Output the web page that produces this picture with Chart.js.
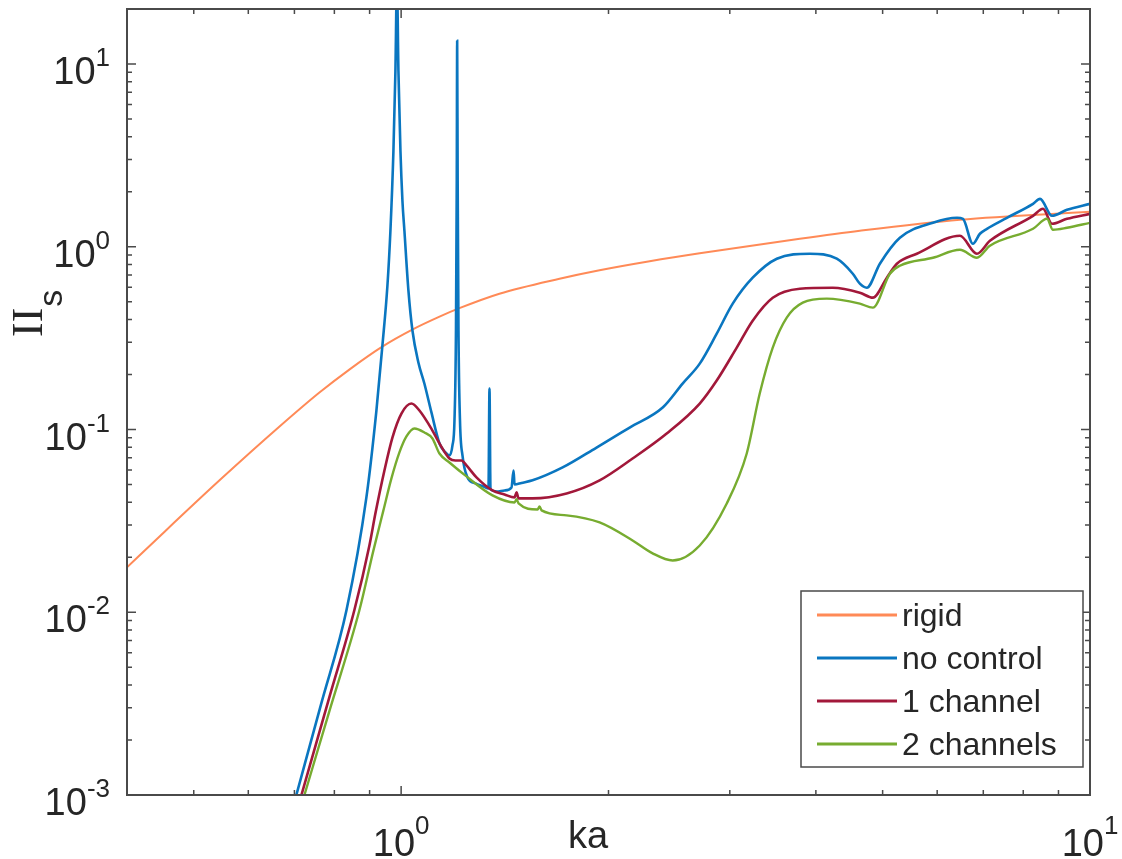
<!DOCTYPE html>
<html>
<head>
<meta charset="utf-8">
<script src="https://cdn.jsdelivr.net/npm/chart.js@4.4.1/dist/chart.umd.min.js"></script>
<style>
  body { margin: 0; background: #fff; }
  #wrap { width: 1122px; height: 859px; position: relative; }
</style>
</head>
<body>
<div id="wrap"><canvas id="myChart"></canvas></div>
<script>
// values (ka on x, Pi_s on y, both log)
const rigidKa = [0.4, 0.446, 0.545, 0.666, 0.761, 0.841, 0.939, 1.038, 1.137, 1.215, 1.389, 1.698, 1.941, 2.295, 2.713, 3.791, 4.633, 6.474, 10];
const rigidPi = [0.0176, 0.0260, 0.0527, 0.1038, 0.1593, 0.2128, 0.2841, 0.352, 0.4145, 0.4612, 0.5535, 0.6686, 0.7438, 0.8331, 0.9215, 1.106, 1.223, 1.405, 1.553];

const noCtrlKa = [0.7045, 0.766, 0.833, 0.8904, 0.9207, 0.9393, 0.9552, 0.9648, 0.9746, 0.9811, 0.9861, 0.991, 0.9977, 1.0044, 1.0111, 1.0247, 1.0385, 1.0596, 1.081, 1.1066,
  1.1367, 1.1597, 1.1753, 1.1872, 1.1952, 1.2012, 1.2044, 1.206, 1.208, 1.2113, 1.2174, 1.2276, 1.2483, 1.2821, 1.317, 1.3391, 1.3436, 1.3481, 1.3755, 1.4128,
  1.4463, 1.4561, 1.461, 1.4955, 1.5515, 1.7156, 1.9216, 2.1466, 2.3973, 2.5622, 2.7132, 2.8717, 3.0295, 3.2384, 3.5104, 3.92, 4.2895, 4.5256, 4.6333, 4.7424,
  4.9541, 5.2966, 5.9156, 6.4104, 6.5403, 6.7608, 6.9215, 7.0859, 7.576, 8.2661, 8.4623, 8.8075, 9.26, 10];
const noCtrlPi = [0.001, 0.00318, 0.01025, 0.0425, 0.127, 0.288, 0.612, 1.22, 3.35, 9.16, 28, 9.16, 3.35, 1.78, 1.22, 0.575, 0.348, 0.232, 0.178, 0.124,
  0.0839, 0.0749, 0.0721, 0.0818, 0.112, 0.348, 2.30, 13.4, 2.30, 0.348, 0.112, 0.0721, 0.0547, 0.0507, 0.0488, 0.0476, 0.1675, 0.047, 0.0458, 0.0464,
  0.0482, 0.0597, 0.05, 0.051, 0.0527, 0.062, 0.0797, 0.1025, 0.1319, 0.1784, 0.2294, 0.3346, 0.4882, 0.677, 0.86, 0.916, 0.86, 0.712, 0.628, 0.597,
  0.808, 1.12, 1.352, 1.44, 1.42, 1.038, 1.178, 1.254, 1.44, 1.718, 1.829, 1.477, 1.593, 1.718];

const oneChKa = [0.7166, 0.7868, 0.8552, 0.8994, 0.9177, 0.9457, 0.9713, 1.001, 1.035, 1.0631, 1.1104, 1.1367, 1.1753, 1.1992, 1.2235, 1.2441, 1.2864, 1.3571,
  1.4128, 1.461, 1.4707, 1.4806, 1.5515, 1.7387, 1.9414, 2.1677, 2.4296, 2.7132, 2.8717, 3.0704, 3.2384, 3.463, 3.791, 4.2326, 4.6333, 4.8389, 5.0715,
  5.2437, 5.6058, 6.474, 6.852, 7.1567, 8.2661, 8.5465, 8.8075, 9.26, 10];
const oneChPi = [0.001, 0.00343, 0.01025, 0.0232, 0.0348, 0.0597, 0.0904, 0.1223, 0.1387, 0.127, 0.0987, 0.0839, 0.0694, 0.0677, 0.0677, 0.0636, 0.0547, 0.0464,
  0.0441, 0.0425, 0.0453, 0.042, 0.042, 0.0447, 0.0527, 0.0694, 0.0951, 0.1387, 0.1853, 0.2806, 0.3941, 0.5265, 0.5895, 0.597, 0.5606, 0.5265, 0.677,
  0.8075, 0.9157, 1.148, 0.9157, 1.078, 1.477, 1.613, 1.336, 1.422, 1.514];

const twoChKa = [0.7238, 0.7868, 0.8698, 0.9116, 0.9425, 0.9681, 0.9943, 1.0179, 1.0455, 1.081, 1.1104, 1.1367, 1.1753, 1.2441, 1.3571, 1.461, 1.4707, 1.4806,
  1.5777, 1.5884, 1.5991, 1.7387, 1.9414, 2.1677, 2.3177, 2.478, 2.7132, 2.9697, 3.1747, 3.3157, 3.463, 3.6291, 3.8285, 4.1486, 4.6333, 4.8389, 5.1223,
  5.2966, 5.9156, 6.474, 6.852, 7.1567, 8.2661, 8.6614, 8.8362, 9.26, 10];
const twoChPi = [0.001, 0.00288, 0.01025, 0.0218, 0.0361, 0.054, 0.0749, 0.0916, 0.1013, 0.0963, 0.0893, 0.0739, 0.066, 0.0554, 0.0436, 0.0399, 0.0415, 0.0394,
  0.0365, 0.0379, 0.0361, 0.0339, 0.031, 0.0247, 0.021, 0.0192, 0.0232, 0.0394, 0.0739, 0.1573, 0.2806, 0.4093, 0.4943, 0.5199, 0.4882, 0.4642, 0.7118,
  0.7874, 0.8707, 0.963, 0.8707, 1.0127, 1.254, 1.422, 1.238, 1.27, 1.352];

const seriesNames = ['rigid', 'no control', '1 channel', '2 channels'];
const seriesColors = ['#ff8a57', '#0a76c0', '#a2183a', '#77ac30'];

// tick labels: [base, exponent]
const xTickVals = [1, 10];
const xTickLabels = [['10', '0'], ['10', '1']];
const yTickVals = [0.001, 0.01, 0.1, 1, 10];
const yTickLabels = [['10', '-3'], ['10', '-2'], ['10', '-1'], ['10', '0'], ['10', '1']];

const FONT = '"Liberation Sans", Arial, Helvetica, sans-serif';
const TEXT = '#262626';
const AXIS = '#4a4a4a';

const toPoints = (xs, ys) => xs.map((x, i) => ({ x: x, y: ys[i] }));

// 1..9 x 10^n between min and max
const logTicks = (min, max) => {
  const out = [];
  for (let e = Math.floor(Math.log10(min)); e <= Math.ceil(Math.log10(max)); e++) {
    for (let m = 1; m <= 9; m++) {
      const v = m * Math.pow(10, e);
      if (v > min * 1.0001 && v < max * 0.9999) out.push({ v: v, major: m === 1 });
    }
  }
  return out;
};

const matlabAxes = {
  id: 'matlabAxes',
  afterDraw(chart) {
    const { ctx, chartArea: a } = chart;
    const xs = chart.scales.x;
    const ys = chart.scales.y;
    ctx.save();

    // inward ticks on all four sides
    ctx.strokeStyle = AXIS;
    ctx.lineWidth = 1.5;
    ctx.beginPath();
    logTicks(xs.min, xs.max).forEach((t) => {
      const px = xs.getPixelForValue(t.v);
      const len = t.major ? 9 : 5;
      ctx.moveTo(px, a.bottom); ctx.lineTo(px, a.bottom - len);
      ctx.moveTo(px, a.top); ctx.lineTo(px, a.top + len);
    });
    logTicks(ys.min, ys.max).forEach((t) => {
      const py = ys.getPixelForValue(t.v);
      const len = t.major ? 9 : 5;
      ctx.moveTo(a.left, py); ctx.lineTo(a.left + len, py);
      ctx.moveTo(a.right, py); ctx.lineTo(a.right - len, py);
    });
    ctx.stroke();

    // box
    ctx.lineWidth = 2;
    ctx.strokeRect(a.left, a.top, a.right - a.left, a.bottom - a.top);

    // tick labels with raised exponent
    ctx.fillStyle = TEXT;
    ctx.textBaseline = 'alphabetic';
    ctx.textAlign = 'left';
    const baseFont = '38px ' + FONT;
    const expFont = '26px ' + FONT;
    const measure = (txt, f) => { ctx.font = f; return ctx.measureText(txt).width; };

    yTickVals.forEach((v, i) => {
      const py = ys.getPixelForValue(v);
      const [b, e] = yTickLabels[i];
      const wE = measure(e, expFont);
      const wB = measure(b, baseFont);
      const right = 110;
      ctx.font = baseFont; ctx.fillText(b, right - wE - wB, py + 20);
      ctx.font = expFont; ctx.fillText(e, right - wE, py + 2);
    });

    xTickVals.forEach((v, i) => {
      const px = xs.getPixelForValue(v);
      const [b, e] = xTickLabels[i];
      const wE = measure(e, expFont);
      const wB = measure(b, baseFont);
      const left = px - (wB + wE) / 2;
      ctx.font = baseFont; ctx.fillText(b, left, 856);
      ctx.font = expFont; ctx.fillText(e, left + wB, 834);
    });

    // axis titles
    ctx.font = '38px ' + FONT;
    ctx.textAlign = 'center';
    ctx.fillText('ka', 588, 848);

    ctx.save();
    ctx.translate(42, 337);
    ctx.rotate(-Math.PI / 2);
    ctx.textAlign = 'left';
    ctx.font = '44px "Liberation Serif", "Times New Roman", serif';
    ctx.fillText('II', 0, 0);
    const wII = ctx.measureText('II').width;
    ctx.font = '34px ' + FONT;
    ctx.fillText('s', wII + 1, 20);
    ctx.restore();

    // legend box
    const lg = { left: 801, top: 591, right: 1083, bottom: 767 };
    ctx.fillStyle = '#fff';
    ctx.fillRect(lg.left, lg.top, lg.right - lg.left, lg.bottom - lg.top);
    ctx.strokeStyle = AXIS;
    ctx.lineWidth = 1.5;
    ctx.strokeRect(lg.left, lg.top, lg.right - lg.left, lg.bottom - lg.top);
    ctx.font = '32px ' + FONT;
    ctx.textAlign = 'left';
    ctx.textBaseline = 'middle';
    chart.data.datasets.forEach((ds, i) => {
      const cy = 615 + i * 43;
      ctx.strokeStyle = ds.borderColor;
      ctx.lineWidth = 3;
      ctx.beginPath();
      ctx.moveTo(817, cy); ctx.lineTo(897, cy);
      ctx.stroke();
      ctx.fillStyle = TEXT;
      ctx.fillText(ds.label, 902, cy + 2);
    });

    ctx.restore();
  },
};

const datasets = [
  { label: seriesNames[0], data: toPoints(rigidKa, rigidPi), borderColor: seriesColors[0], borderWidth: 2 },
  { label: seriesNames[1], data: toPoints(noCtrlKa, noCtrlPi), borderColor: seriesColors[1], borderWidth: 2.6 },
  { label: seriesNames[2], data: toPoints(oneChKa, oneChPi), borderColor: seriesColors[2], borderWidth: 2.6 },
  { label: seriesNames[3], data: toPoints(twoChKa, twoChPi), borderColor: seriesColors[3], borderWidth: 2.4 },
].map((d, i) => ({ ...d, pointRadius: 0, fill: false, cubicInterpolationMode: 'monotone', order: 4 - i }));

const chart = new Chart(document.getElementById('myChart'), {
  type: 'line',
  data: { datasets: datasets },
  options: {
    responsive: true,
    maintainAspectRatio: false,
    animation: false,
    layout: { padding: { left: 127, right: 32, top: 9, bottom: 64 } },
    scales: {
      x: { type: 'logarithmic', min: 0.4, max: 10, display: false },
      y: { type: 'logarithmic', min: 0.001, max: 20, display: false },
    },
    plugins: {
      legend: { display: false },
      tooltip: { enabled: false },
    },
  },
  plugins: [matlabAxes],
});
</script>
</body>
</html>
